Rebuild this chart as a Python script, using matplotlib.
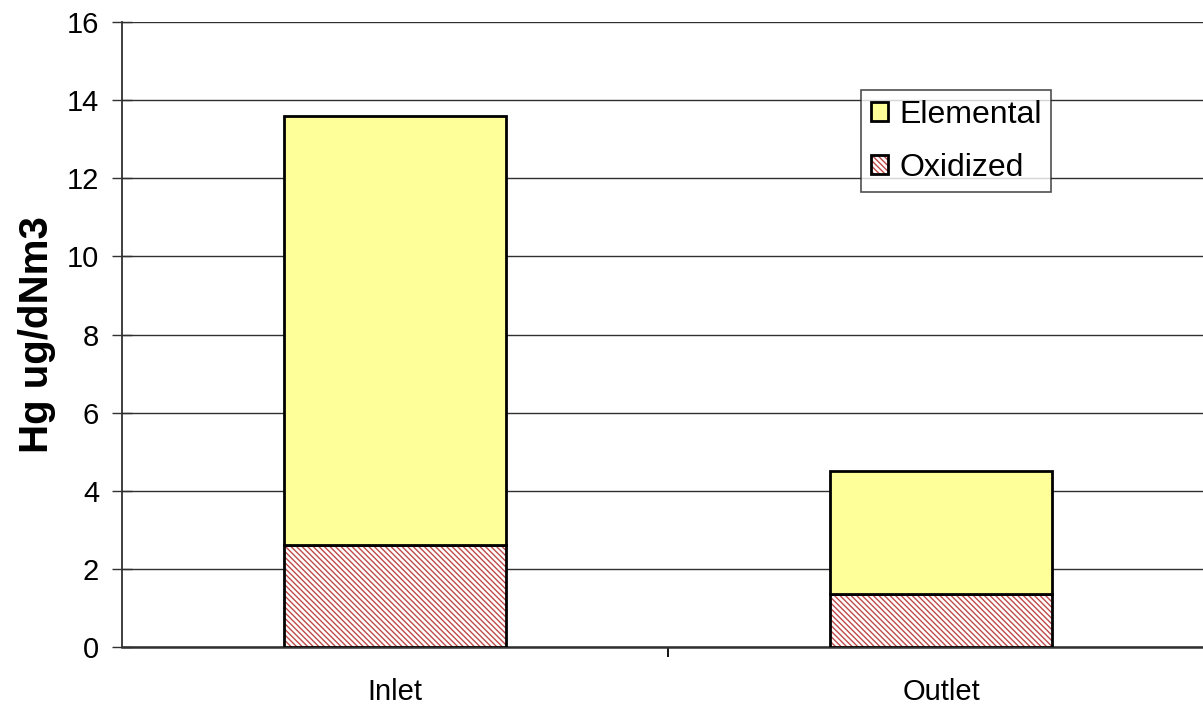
import matplotlib
matplotlib.use("Agg")
import matplotlib.pyplot as plt
import matplotlib.colors as mcolors
import numpy as np

plt.rcParams['font.family'] = ['Liberation Sans', 'DejaVu Sans']
plt.rcParams['hatch.linewidth'] = 1.0

categories = ["Inlet", "Outlet"]
oxidized = [2.6, 1.35]
elemental = [11.0, 3.15]
y_ticks = [0, 2, 4, 6, 8, 10, 12, 14, 16]

HATCH_RED = '#bf4a4a'

W, H = 1203, 707
fig = plt.figure(figsize=(W / 100, H / 100), dpi=100)
ax = fig.add_axes([122 / W, 1 - 647 / H, (1214 - 122) / W, (647 - 22) / H])

x = np.arange(len(categories)) + 0.5
width = 0.405

ox_bars = ax.bar(x, oxidized, width, color='white', edgecolor='black', linewidth=2,
                 hatch='\\\\\\\\\\\\', label='Oxidized', zorder=3)
for p in ox_bars:
    p._hatch_color = mcolors.to_rgba(HATCH_RED)
ax.bar(x, elemental, width, bottom=oxidized, color='#ffff99', edgecolor='black',
       linewidth=2, label='Elemental', zorder=3)

ax.set_xlim(0, 2)
ax.set_ylim(0, 16)
ax.set_yticks(y_ticks)
ax.set_yticklabels([str(t) for t in y_ticks], fontsize=21)
ax.yaxis.grid(True, color='#303030', linewidth=1)
ax.set_axisbelow(True)

ax.set_xticks(x)
ax.set_xticklabels(categories, fontsize=21)
ax.tick_params(axis='x', which='major', length=0, pad=22.5)
ax.set_xticks([1], minor=True)
ax.tick_params(axis='x', which='minor', length=7, width=1.3, color='black', direction='out')
ax.tick_params(axis='y', direction='inout', length=15, width=1, color='#303030', pad=9)

for side in ['top', 'right']:
    ax.spines[side].set_visible(False)
ax.spines['left'].set_color('#303030')
ax.spines['left'].set_linewidth(1.3)
ax.spines['bottom'].set_color('#303030')
ax.spines['bottom'].set_linewidth(1.8)

ax.set_ylabel('Hg ug/dNm3', fontsize=29, fontweight='bold', labelpad=8)

handles, labels = ax.get_legend_handles_labels()
leg = ax.legend(handles[::-1], labels[::-1], loc='upper left',
                bbox_to_anchor=((861 - 122) / (1214 - 122), 1 - (90 - 22) / (647 - 22)),
                fontsize=23, frameon=True, fancybox=False, handlelength=0.56,
                handleheight=0.56, handletextpad=0.34, borderpad=0.3, labelspacing=0.72,
                borderaxespad=0)
leg.get_frame().set_edgecolor('#222222')
leg.get_frame().set_linewidth(1.2)
for h in leg.legend_handles:
    if h.get_hatch():
        h._hatch_color = mcolors.to_rgba(HATCH_RED)

fig.savefig('out.png', dpi=100)
